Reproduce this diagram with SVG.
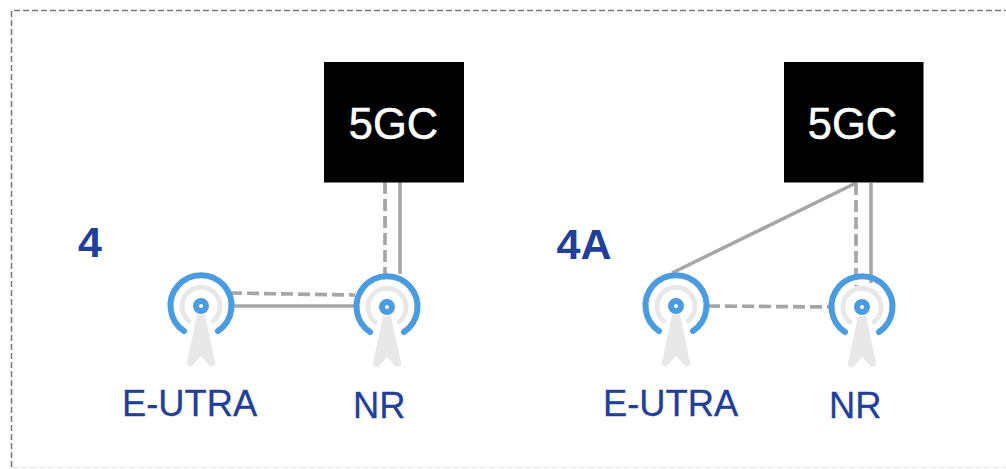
<svg xmlns="http://www.w3.org/2000/svg" width="1006" height="469" viewBox="0 0 1006 469">
<style>
.t{font-family:"Liberation Sans",Arial,sans-serif}
.lbl{font-size:36.300px;fill:#1f3f9a;stroke:#1f3f9a;stroke-width:.3}
.num{font-size:43px;font-weight:bold;fill:#1f3f9a}
.core{font-size:43.500px;fill:#fff;text-anchor:middle;stroke:#fff;stroke-width:.5}
.solid{stroke:#a6a6a6;stroke-width:3.500;fill:none}
.dash{stroke:#a6a6a6;stroke-width:3.700;fill:none;stroke-dasharray:12 5}
.blue{stroke:#4a9ce0;stroke-width:6;fill:none;stroke-linecap:round}
.gray{stroke:#e8e8e8;stroke-width:5;fill:none;stroke-linecap:round}
</style>
<defs>
<g id="tower">
<path class="blue" d="M-17 25A30.500 30.500 0 1 1 17 25"/>
<path class="gray" d="M-12 15A19 19 0 1 1 12 15"/>
<path d="M-4 9H4L14 56Q14.500 60 11 60H9L0 50L-9 60H-11Q-14.500 60-14 56Z" fill="#e8e8e8"/>
<circle r="5" fill="#fff" stroke="#4a9ce0" stroke-width="6"/>
</g>
</defs>
<path d="M11.500 467V10.500H1006" fill="none" stroke="#777" stroke-width="1.500" stroke-dasharray="6 3"/>
<path d="M12 467.500H1006" stroke="#e4e4e4" stroke-width="1.200" stroke-dasharray="6 3"/>
<g id="connectors">
<path class="dash" d="M385 182V276"/>
<path class="solid" d="M400 182V274"/>
<path class="dash" d="M230 293L355 295"/>
<path class="solid" d="M232 306H356"/>
<path class="solid" d="M856 183L672 273"/>
<path class="dash" d="M856 183V286"/>
<path class="solid" d="M871 183V283"/>
<path class="dash" d="M708 306L832 307"/>
</g>
<g id="core-4"><rect x="324" y="62" width="140" height="120.500"/><text class="t core" x="393.500" y="139">5GC</text></g>
<g id="core-4a"><rect x="784" y="62" width="139.500" height="120.500"/><text class="t core" x="852.500" y="139">5GC</text></g>
<g id="eutra-4"><use href="#tower" x="201" y="306"/><text class="t lbl" x="122" y="416">E-UTRA</text></g>
<g id="nr-4"><use href="#tower" x="387" y="307"/><text class="t lbl" x="353" y="418">NR</text></g>
<g id="eutra-4a"><use href="#tower" x="676" y="306"/><text class="t lbl" x="603" y="416">E-UTRA</text></g>
<g id="nr-4a"><use href="#tower" x="862" y="307"/><text class="t lbl" x="829" y="418">NR</text></g>
<text class="t num" x="78" y="257">4</text>
<text class="t num" x="556.500" y="259">4A</text>
</svg>
